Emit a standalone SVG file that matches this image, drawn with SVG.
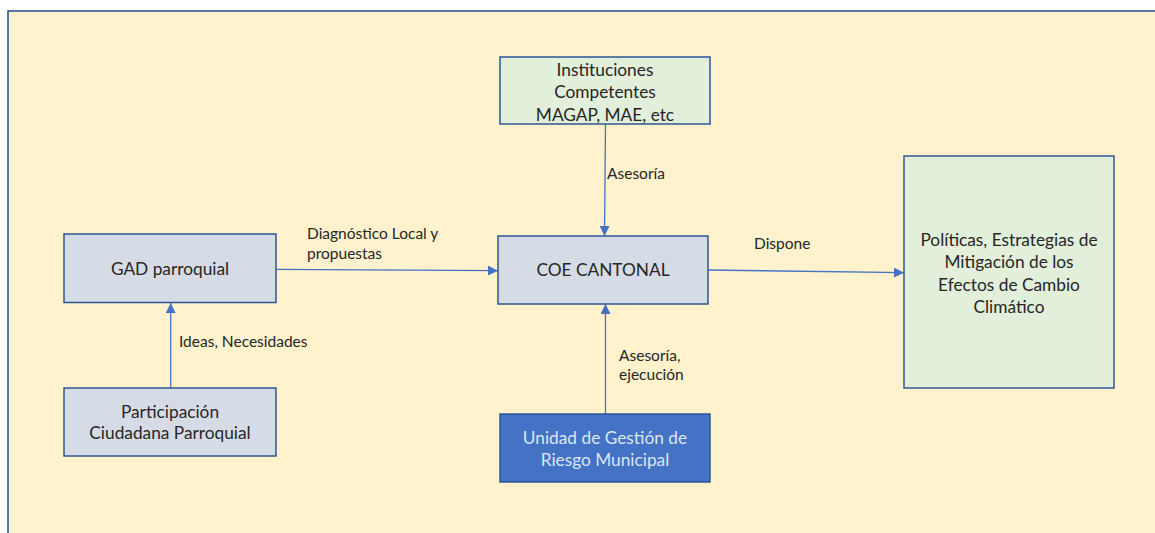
<svg xmlns="http://www.w3.org/2000/svg" width="1155" height="533" viewBox="0 0 1155 533">
<style>
.box{stroke:#2f5597;stroke-width:1.5}
.blue{fill:#d6dce5}
.green{fill:#e2efda}
.dark{fill:#4472c4}
text{font-family:Lato,"Open Sans","Liberation Sans",sans-serif;font-size:15.5px;fill:#262626}
.c{text-anchor:middle;font-size:17.3px}
.w{fill:#dce6f2}
.conn{stroke:#4472c4;stroke-width:1.3;fill:none;marker-end:url(#ah)}
</style>
<defs>
<marker id="ah" viewBox="0 0 10 10" refX="10" refY="5" markerWidth="10" markerHeight="10" markerUnits="userSpaceOnUse" orient="auto">
<path d="M0,0 L10,5 L0,10 z" fill="#4472c4"/>
</marker>
</defs>
<rect x="0" y="0" width="1155" height="533" fill="#ffffff"/>
<rect x="8" y="11" width="1160" height="540" fill="#fff2cc" stroke="#2f5597" stroke-width="1.6"/>
<g id="connectors">
<path class="conn" d="M276,269.3 L498,270.7"/>
<path class="conn" d="M708,270 L904,272.7"/>
<path class="conn" d="M605.5,124 L604.5,236"/>
<path class="conn" d="M605.5,414 L605.5,304"/>
<path class="conn" d="M170.7,388 L170.7,303"/>
<text x="307" y="239">Diagnóstico Local y</text>
<text x="307" y="259">propuestas</text>
<text x="754" y="249">Dispone</text>
<text x="607" y="179">Asesoría</text>
<text x="619" y="361">Asesoría,</text>
<text x="619" y="380">ejecución</text>
<text x="179" y="347">Ideas, Necesidades</text>
</g>
<g id="instituciones">
<rect class="box green" x="500" y="57" width="210" height="67"/>
<text class="c" x="605" y="75.5">Instituciones</text>
<text class="c" x="605" y="98">Competentes</text>
<text class="c" x="605" y="120.5">MAGAP, MAE, etc</text>
</g>
<g id="coe">
<rect class="box blue" x="498" y="236" width="210" height="68"/>
<text class="c" x="603" y="276">COE CANTONAL</text>
</g>
<g id="gad">
<rect class="box blue" x="64" y="234" width="212" height="68.5"/>
<text class="c" x="170" y="275">GAD parroquial</text>
</g>
<g id="participacion">
<rect class="box blue" x="64" y="388" width="212" height="68"/>
<text class="c" x="170" y="418">Participación</text>
<text class="c" x="170" y="439">Ciudadana Parroquial</text>
</g>
<g id="unidad">
<rect class="box dark" x="500" y="414" width="210" height="68"/>
<text class="c w" x="605" y="443.5">Unidad de Gestión de</text>
<text class="c w" x="605" y="466">Riesgo Municipal</text>
</g>
<g id="politicas">
<rect class="box green" x="904" y="156" width="210" height="232"/>
<text class="c" x="1009" y="246">Políticas, Estrategias de</text>
<text class="c" x="1009" y="267.5">Mitigación de los</text>
<text class="c" x="1009" y="291">Efectos de Cambio</text>
<text class="c" x="1009" y="312.5">Climático</text>
</g>
</svg>
